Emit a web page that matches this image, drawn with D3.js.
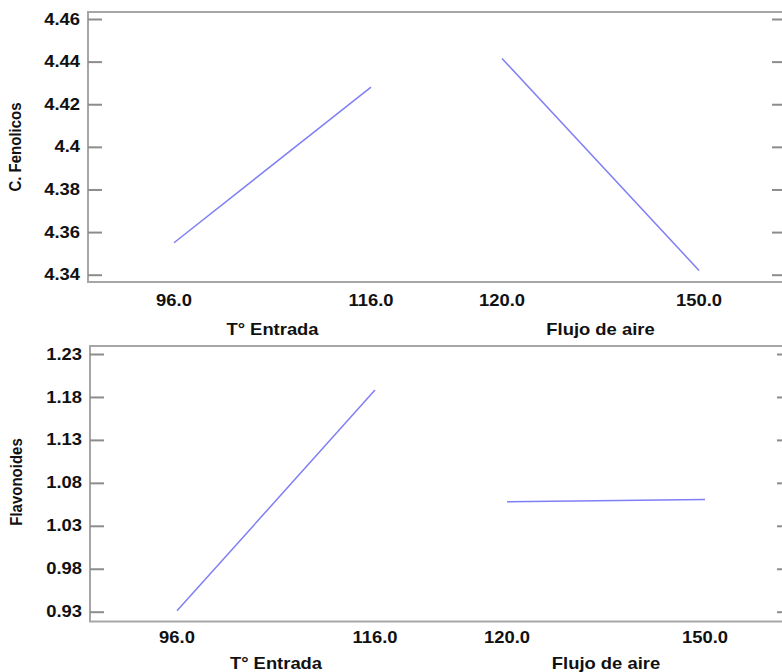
<!DOCTYPE html>
<html>
<head>
<meta charset="utf-8">
<script src="https://cdn.jsdelivr.net/npm/d3@7"></script>
<style>
  html, body { margin: 0; padding: 0; background: #fff; }
  svg { display: block; }
  text { font-family: "Liberation Sans", Arial, sans-serif; font-weight: bold; fill: #111; }
</style>
</head>
<body>
<svg id="chart" width="782" height="672"></svg>
<script>
// ---- data ----
const factors = ["T\u00b0 Entrada", "Flujo de aire"];
const levelLabels = [["96.0", "116.0"], ["120.0", "150.0"]];
const fenolicos = [[4.355, 4.428], [4.4415, 4.342]];
const flavonoides = [[0.931, 1.188], [1.058, 1.0605]];
const fenolicosTicks = [4.34, 4.36, 4.38, 4.40, 4.42, 4.44, 4.46];
const flavonoidesTicks = [0.93, 0.98, 1.03, 1.08, 1.13, 1.18, 1.23];

// ---- layout ----
const svg = d3.select("#chart");
const SX = 1.15; // horizontal stretch of text as in the reference
const FS = 16;

const panels = [
  { name: "C. Fenolicos", values: fenolicos, ticks: fenolicosTicks,
    domain: [4.34, 4.46], yr: [274.7, 19], frameTop: 12, frameBottom: 282,
    left: 88, right: 786, band: 328, inner: [86, 283],
    tickLabelY: 306, titleY: 335, ylabelX: 21, ylabelY: 147 },
  { name: "Flavonoides", values: flavonoides, ticks: flavonoidesTicks,
    domain: [0.93, 1.23], yr: [611.7, 354], frameTop: 346, frameBottom: 621.5,
    left: 90, right: 791, band: 330, inner: [87, 285],
    tickLabelY: 643, titleY: 669, ylabelX: 22, ylabelY: 482 }
];

panels.forEach(p => {
  const g = svg.append("g");
  const y = d3.scaleLinear().domain(p.domain).range(p.yr);
  const xBand = d3.scaleBand().domain(factors).range([p.left, p.left + 2 * p.band]);
  const xInner = d3.scalePoint().domain([0, 1]).range(p.inner);

  // frame
  g.append("rect")
    .attr("x", p.left).attr("y", p.frameTop)
    .attr("width", p.right - p.left).attr("height", p.frameBottom - p.frameTop)
    .attr("fill", "none").attr("stroke", "#a6a6a6").attr("stroke-width", 2);

  // left axis ticks (inward)
  const leftAxis = d3.axisRight(y).tickValues(p.ticks).tickSize(14).tickFormat("");
  const la = g.append("g").attr("transform", `translate(${p.left},0)`).call(leftAxis);
  la.select(".domain").remove();
  la.selectAll("line").attr("stroke", "#8c8c8c").attr("stroke-width", 2);

  // right axis ticks (inward)
  const rightAxis = d3.axisLeft(y).tickValues(p.ticks).tickSize(14).tickFormat("");
  const ra = g.append("g").attr("transform", `translate(${p.right},0)`).call(rightAxis);
  ra.select(".domain").remove();
  ra.selectAll("line").attr("stroke", "#8c8c8c").attr("stroke-width", 2);

  // y tick labels
  g.selectAll(".ylab").data(p.ticks).enter().append("text")
    .attr("class", "ylab")
    .attr("text-anchor", "end")
    .attr("dominant-baseline", "central")
    .attr("font-size", FS)
    .attr("transform", d => `translate(${p.left - 8},${y(d)}) scale(${SX},1)`)
    .text(d => String(+d.toFixed(2)));

  // y title
  g.append("text")
    .attr("text-anchor", "middle")
    .attr("font-size", 15)
    .attr("transform", `translate(${p.ylabelX},${p.ylabelY}) rotate(-90) scale(1,${SX})`)
    .text(p.name);

  // x tick labels & factor titles, lines
  factors.forEach((f, i) => {
    const x0 = xBand(f);
    const pts = p.values[i].map((v, j) => [x0 + xInner(j), y(v)]);
    levelLabels[i].forEach((lab, j) => {
      g.append("text")
        .attr("text-anchor", "middle")
        .attr("font-size", FS)
        .attr("transform", `translate(${x0 + xInner(j)},${p.tickLabelY}) scale(${SX},1)`)
        .text(lab);
    });
    g.append("text")
      .attr("text-anchor", "middle")
      .attr("font-size", FS)
      .attr("transform", `translate(${x0 + (xInner(0) + xInner(1)) / 2},${p.titleY}) scale(${SX},1)`)
      .text(f);
    g.append("path")
      .attr("d", d3.line()(pts))
      .attr("fill", "none")
      .attr("stroke", "#7f7ff5")
      .attr("stroke-width", 1.5);
  });
});
</script>
</body>
</html>
